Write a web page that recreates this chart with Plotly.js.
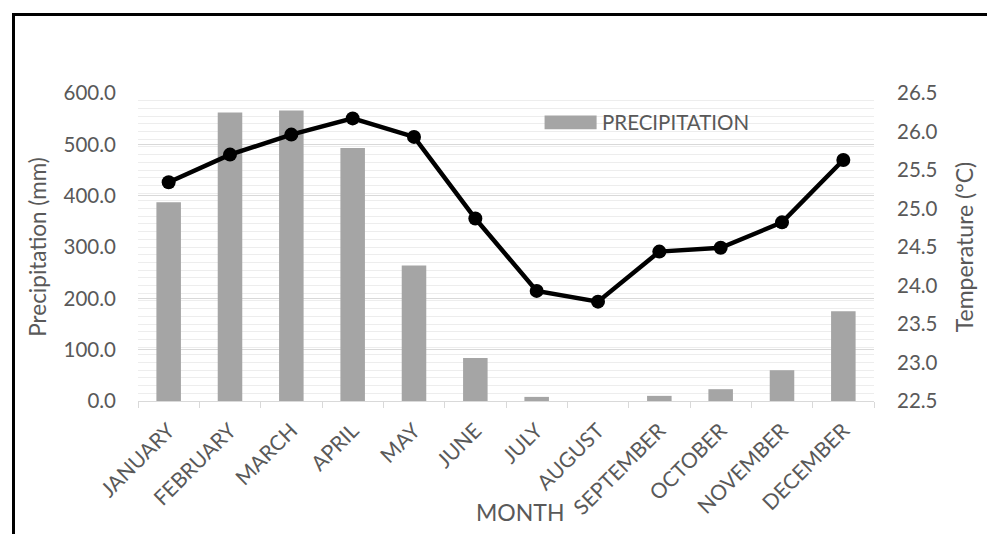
<!DOCTYPE html>
<html>
<head>
<meta charset="utf-8">
<script src="https://cdn.plot.ly/plotly-3.0.1.min.js"></script>
<style>
  html, body { margin: 0; padding: 0; background: #fff; }
  #wrap { position: relative; width: 987px; height: 534px; overflow: hidden; }
  #chart { position: absolute; left: 0; top: 0; width: 987px; height: 534px; }
  #frame { position: absolute; left: 12px; top: 13px; width: 990px; height: 540px;
           border-left: 3px solid #000; border-top: 3px solid #000; pointer-events: none; }
</style>
</head>
<body>
<div id="wrap">
  <div id="chart"></div>
  <div id="frame"></div>
</div>
<script>
const months = ["JANUARY","FEBRUARY","MARCH","APRIL","MAY","JUNE","JULY","AUGUST","SEPTEMBER","OCTOBER","NOVEMBER","DECEMBER"];
const precipitation = [387, 562, 566, 493, 264, 84, 8, 0, 10, 23, 60, 175];
const temperature = [25.34, 25.70, 25.96, 26.17, 25.93, 24.87, 23.93, 23.79, 24.44, 24.49, 24.82, 25.63];
const precipTicks = [0, 100, 200, 300, 400, 500, 600];
const precipTickText = ["0.0","100.0","200.0","300.0","400.0","500.0","600.0"];
const tempTicks = [22.5, 23.0, 23.5, 24.0, 24.5, 25.0, 25.5, 26.0, 26.5];
const tempTickText = ["22.5","23.0","23.5","24.0","24.5","25.0","25.5","26.0","26.5"];

const FONT = "Lato, 'Open Sans', sans-serif";
const GREY = "#595959";

const traces = [
  {
    type: "bar", name: "PRECIPITATION", x: months, y: precipitation,
    marker: { color: "#a5a5a5" }, yaxis: "y", showlegend: false, hoverinfo: "x+y"
  },
  {
    type: "scatter", mode: "lines+markers", name: "TEMPERATURE", x: months, y: temperature,
    yaxis: "y2", line: { color: "#000", width: 4.5 },
    marker: { color: "#000", size: 14 }, showlegend: false
  }
];

const layout = {
  width: 987, height: 534,
  margin: { l: 138, r: 113, t: 93, b: 133 },
  paper_bgcolor: "#fff", plot_bgcolor: "#fff",
  font: { family: FONT, color: GREY, size: 20 },
  bargap: 0.6,
  showlegend: false,
  xaxis: {
    type: "category", range: [-0.5, 11.5],
    tickangle: -45, tickfont: { size: 21, color: GREY },
    showline: true, linecolor: "#d9d9d9", linewidth: 1,
    ticks: "outside", tickson: "boundaries", ticklen: 6, tickcolor: "#d9d9d9",
    ticklabelstandoff: 8,
    showgrid: false, zeroline: false, fixedrange: true
  },
  yaxis: {
    range: [0, 600], tickvals: precipTicks, ticktext: precipTickText,
    showgrid: true, gridcolor: "#d9d9d9", gridwidth: 1,
    zeroline: false, showline: false, ticks: "",
    ticklabelstandoff: 21,
    tickfont: { size: 20.5, color: GREY },
    title: { text: "Precipitation (mm)", font: { size: 22.5, color: GREY }, standoff: 10 },
    fixedrange: true
  },
  yaxis2: {
    overlaying: "y", side: "right", range: [22.5, 26.5],
    tickvals: tempTicks, ticktext: tempTickText,
    showgrid: true, gridcolor: "#ededed", gridwidth: 1,
    minor: { dtick: 0.1, showgrid: true, gridcolor: "#ededed", gridwidth: 1, ticks: "" },
    zeroline: false, showline: false, ticks: "",
    ticklabelstandoff: 22,
    tickfont: { size: 20.5, color: GREY },
    title: { text: "Temperature (°C)", font: { size: 23, color: GREY }, standoff: 20 },
    fixedrange: true
  },
  shapes: [
    { type: "rect", xref: "paper", yref: "paper", x0: 0.5524, x1: 0.6231, y0: 0.882, y1: 0.927,
      fillcolor: "#a5a5a5", line: { width: 0 } }
  ],
  annotations: [
    { text: "PRECIPITATION", xref: "paper", yref: "paper", x: 0.628, y: 0.905,
      xanchor: "left", yanchor: "middle", showarrow: false, font: { size: 20.5, color: GREY } },
    { text: "MONTH", xref: "paper", yref: "paper", x: 0.519, y: -0.362,
      xanchor: "center", yanchor: "middle", showarrow: false, font: { size: 23, color: GREY } }
  ]
};

Plotly.newPlot("chart", traces, layout, { displayModeBar: false, staticPlot: true });
</script>
</body>
</html>
